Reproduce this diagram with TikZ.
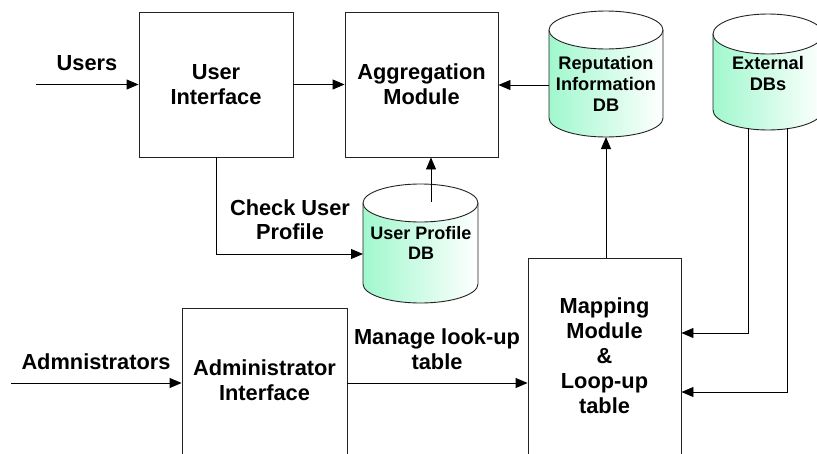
\documentclass[tikz,border=0pt]{standalone}
\usepackage{fontspec}
\setmainfont{Liberation Sans}
\usetikzlibrary{arrows.meta}
\definecolor{cylgreen}{RGB}{160,248,205}
\definecolor{edgec}{RGB}{35,35,35}
\newcommand{\dbcyl}[5]{% cx, top, bottom, rx, ry
  \shade[left color=cylgreen, right color=white]
    (#1-#4, #2+#5) -- (#1-#4, #3-#5)
    arc[start angle=180, end angle=360, x radius=#4pt, y radius=#5pt]
    -- (#1+#4, #2+#5)
    arc[start angle=0, end angle=-180, x radius=#4pt, y radius=#5pt] -- cycle;
  \draw[draw=edgec, line width=0.9pt] (#1-#4, #2+#5) -- (#1-#4, #3-#5)
    arc[start angle=180, end angle=360, x radius=#4pt, y radius=#5pt]
    -- (#1+#4, #2+#5);
  \draw[draw=edgec, line width=0.9pt, fill=white] (#1, #2+#5) ellipse [x radius=#4pt, y radius=#5pt];
}
\begin{document}
\begin{tikzpicture}[x=1pt, y=-1pt,
  box/.style={draw=edgec, line width=0.9pt, inner sep=0pt},
  lbl/.style={font=\fontsize{21.8}{25}\selectfont\bfseries, align=center, inner sep=0pt},
  dblbl/.style={font=\fontsize{18.2}{21}\selectfont\bfseries, align=center, inner sep=0pt},
  arr/.style={draw=black, line width=0.9pt, -{Triangle[length=12pt,width=10pt]}},
  wire/.style={draw=black, line width=0.9pt}
]
\useasboundingbox (0,0) rectangle (817,453);
\clip (0,0) rectangle (817,453);

% boxes
\node[box, lbl, minimum width=154pt, minimum height=145pt] (ui) at (216,84.5) {User\\Interface};
\node[box, lbl, minimum width=153pt, minimum height=145pt] (agg) at (421.5,84.5) {Aggregation\\Module};
\node[box, minimum width=165pt, minimum height=162pt] (admin) at (264.5,389) {};
\node[lbl] (admint) at (264.5,380) {Administrator\\Interface};
\node[box, minimum width=153pt, minimum height=212pt] (map) at (604.5,364) {};
\node[lbl] (mapt) at (604.5,356) {Mapping\\Module\\\&\\Loop-up\\table};

% cylinders
\dbcyl{606}{11}{137}{57}{19}
\dbcyl{768}{14}{130}{55}{20}
\dbcyl{420.5}{184}{303}{57.5}{19}
\node[dblbl] (rep) at (606,84) {Reputation\\Information\\DB};
\node[dblbl] (ext) at (768,73) {External\\DBs};
\node[dblbl, font=\fontsize{18}{20}\selectfont\bfseries] (updb) at (421,242.5) {User Profile\\DB};

% connection points
\coordinate (usersIn) at (36,84.5);
\coordinate (adminIn) at (11,383);
\coordinate (repL) at (549,85);
\coordinate (repB) at (606,137);
\coordinate (updbL) at (363,254);
\coordinate (updbT) at (431,202);
\coordinate (ext1) at (748,128);
\coordinate (ext2) at (787,128);
\coordinate (t1) at (748,333);
\coordinate (t2) at (787,392);

% connectors
\draw[arr] (usersIn) -- (ui.west);
\draw[arr] (ui.east) -- (agg.west);
\draw[arr] (repL) -- (repL -| agg.east);
\draw[arr] (ui.south) |- (updbL);
\draw[arr] (updbT) -- (updbT |- agg.south);
\draw[arr] (adminIn) -- (adminIn -| admin.west);
\draw[arr] (adminIn -| admin.east) -- (adminIn -| map.west);
\draw[arr] (repB |- map.north) -- (repB);
\draw[arr] (ext1) -- (t1) -- (t1 -| map.east);
\draw[arr] (ext2) -- (t2) -- (t2 -| map.east);

% labels
\node[lbl] (lusers) at (87,63) {Users};
\node[lbl, font=\fontsize{21.8}{24}\selectfont\bfseries] (lcheck) at (290,220) {Check User\\Profile};
\node[lbl] (ladm) at (96,362) {Admnistrators};
\node[lbl] (lmanage) at (437,349) {Manage look-up\\table};
\end{tikzpicture}
\end{document}
